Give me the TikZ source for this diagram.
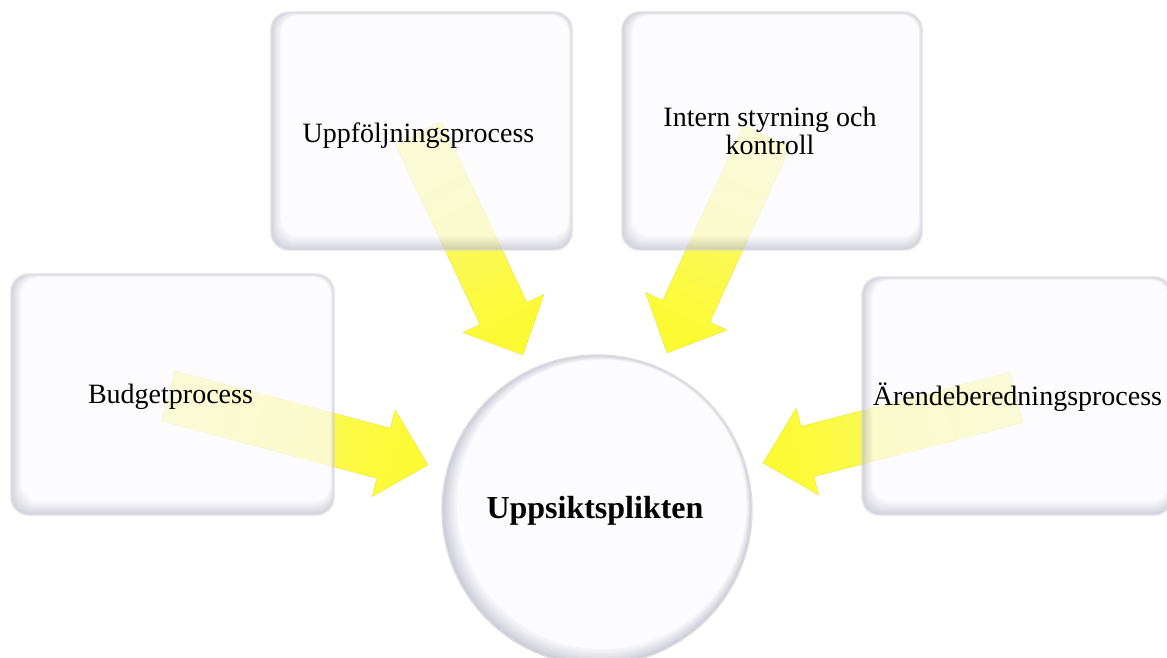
\documentclass[tikz,border=0pt]{standalone}
\usepackage{fontspec}
\setmainfont{Liberation Serif}
\usetikzlibrary{calc}
\definecolor{boxedge}{RGB}{192,192,206}
\definecolor{boxin}{RGB}{251,251,254}
\definecolor{boxline}{RGB}{212,212,218}
\definecolor{arrhead}{RGB}{252,250,50}
\definecolor{arrtail}{RGB}{250,248,125}
\definecolor{arrline}{RGB}{215,210,50}
\tikzset{
  lbl/.style={inner sep=0pt, font=\fontsize{28}{28}\selectfont, text=black},
  yarrowstyle/.style={top color=arrhead, bottom color=arrtail, draw=arrline, line width=0.7pt, draw opacity=0.4},
}
\newcommand{\softbox}[4]{%
  \begin{scope}[transparency group, opacity=0.7]
    \fill[boxedge, rounded corners=18pt] (#1,#2) rectangle (#3,#4);
    \foreach \i in {1,...,8}{%
      \pgfmathtruncatemacro{\p}{\i*12.5}%
      \fill[boxin!\p!boxedge, rounded corners=18pt] ({#1+1.3*\i},{#2+0.4*\i}) rectangle ({#3-0.4*\i},{#4-1.7*\i});
    }
    \draw[boxline, line width=1.4pt, rounded corners=18pt] (#1,#2) rectangle (#3,#4);
  \end{scope}}
\newcommand{\softcircle}[3]{%
  \begin{scope}[transparency group, opacity=0.8]
    \fill[boxedge] (#1,#2) circle[radius=#3pt];
    \foreach \i in {1,...,8}{%
      \pgfmathtruncatemacro{\p}{\i*12.5}%
      \fill[boxin!\p!boxedge] ({#1+0.6*\i},{#2-0.7*\i}) circle[radius={(#3-1.3*\i)*1pt}];
    }
    \draw[boxline, line width=1.4pt] (#1,#2) circle[radius=#3pt];
  \end{scope}}
% #1 tail, #2 tip, #3 shading angle
\newcommand{\yarrow}[3]{%
  \coordinate (h-#1) at ($(#2)!46pt!(#1)$);
  \path[yarrowstyle, shading angle=#3]
    ($(#1)!26pt!90:(#2)$) -- ($(h-#1)!26pt!90:(#2)$) -- ($(h-#1)!45pt!90:(#2)$) -- (#2)
    -- ($(h-#1)!45pt!-90:(#2)$) -- ($(h-#1)!26pt!-90:(#2)$) -- ($(#1)!26pt!-90:(#2)$) -- cycle;}
\begin{document}
\begin{tikzpicture}[x=1pt, y=-1pt]
\useasboundingbox (0,0) rectangle (1167,657);
\clip (0,0) rectangle (1167,657);
% arrow end points
\coordinate (budT) at (168,396);   \coordinate (budP) at (428,465);
\coordinate (uppT) at (418.5,133); \coordinate (uppP) at (523,355);
\coordinate (intT) at (767,136);   \coordinate (intP) at (667,353);
\coordinate (areT) at (1016.5,397.5); \coordinate (areP) at (763,463);
\yarrow{budT}{budP}{-104.9}
\yarrow{uppT}{uppP}{-154.8}
\yarrow{intT}{intP}{-204.7}
\yarrow{areT}{areP}{-255.5}
% boxes
\softbox{271}{12}{572}{250}
\softbox{622}{12}{922}{250}
\softbox{11}{274}{334}{515}
\softbox{862}{277}{1172}{515}
\softcircle{597}{510}{155}
% labels
\node[lbl, anchor=base] (upp) at (418.5,142) {Uppföljningsprocess};
\node[lbl, anchor=base, align=center] (int) at (770,154.5) {Intern styrning och\\kontroll};
\node[lbl, anchor=base] (bud) at (170.5,403) {Budgetprocess};
\node[lbl, anchor=base] (are) at (1017.5,405) {Ärendeberedningsprocess};
\node[lbl, anchor=base, font=\bfseries\fontsize{32}{32}\selectfont] (ups) at (595,518) {Uppsiktsplikten};
\end{tikzpicture}
\end{document}
